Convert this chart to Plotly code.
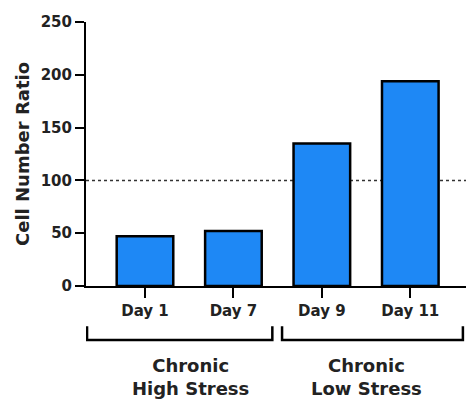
import plotly.graph_objects as go

days = ["Day 1", "Day 7", "Day 9", "Day 11"]
ratios = [47, 52, 135, 194]
group_labels = ["Chronic<br>High Stress", "Chronic<br>Low Stress"]
group_members = [[0, 1], [2, 3]]
y_ticks = [0, 50, 100, 150, 200, 250]
baseline = 100

FONT = "DejaVu Sans"
idx = list(range(len(days)))
x_range = [-0.667, 3.63]

fig = go.Figure(go.Bar(
    x=idx, y=ratios, width=0.64,
    marker=dict(color="#1E88F5", line=dict(color="black", width=2.5)),
))

fig.add_shape(type="line", xref="paper", yref="y", x0=0, x1=1, y0=baseline, y1=baseline,
              line=dict(color="#333333", width=1.5, dash="dot"), layer="below")

n_groups = len(group_members)
for gi, (label, members) in enumerate(zip(group_labels, group_members)):
    x0 = x_range[0] + 0.012 if gi == 0 else members[0] - 0.45
    x1 = x_range[1] - 0.035 if gi == n_groups - 1 else members[-1] + 0.44
    fig.add_shape(type="path", xref="x", yref="paper",
                  path=f"M {x0},-0.152 L {x0},-0.205 L {x1},-0.205 L {x1},-0.152",
                  line=dict(color="black", width=2.5))
    fig.add_annotation(x=(members[0] + members[-1]) / 2 + 0.01, y=-0.345, xref="x", yref="paper",
                       text=label, showarrow=False, yanchor="middle",
                       font=dict(family=FONT, size=18, color="#222", weight="bold"))

fig.update_layout(
    width=466, height=399,
    margin=dict(l=86, r=0, t=22, b=113),
    plot_bgcolor="white", paper_bgcolor="white",
    showlegend=False,
    font=dict(family=FONT, color="#222"),
    xaxis=dict(range=x_range, tickmode="array", tickvals=idx, ticktext=days,
               showline=True, linecolor="black", linewidth=2, ticks="outside",
               ticklen=10, tickwidth=2, tickcolor="black", showgrid=False, zeroline=False,
               tickfont=dict(family=FONT, size=15, color="#222", weight="bold")),
    yaxis=dict(range=[0, 250], tickmode="array", tickvals=y_ticks,
               showline=True, linecolor="black", linewidth=2, ticks="outside",
               ticklen=9, tickwidth=2, tickcolor="black", showgrid=False, zeroline=False,
               tickfont=dict(family=FONT, size=15, color="#222", weight="bold"),
               title=dict(text="Cell Number Ratio", standoff=6,
                          font=dict(family=FONT, size=18, color="#222", weight="bold"))),
)

fig.write_html("out.html", config={"displayModeBar": False},
               post_script="document.body.style.margin='0';document.body.style.overflow='hidden';")
